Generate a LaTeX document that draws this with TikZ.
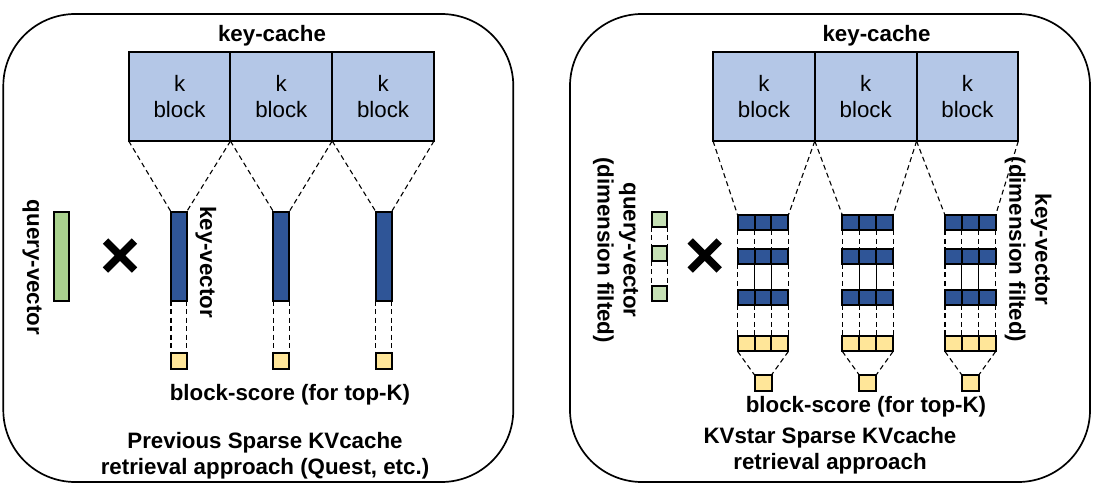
\documentclass[tikz,border=0pt]{standalone}
\usepackage{fontspec}
\setmainfont{Liberation Sans}
\definecolor{kblue}{HTML}{B4C7E7}
\definecolor{dblue}{HTML}{2F5597}
\definecolor{qgreen}{HTML}{A9D18E}
\definecolor{lgreen}{HTML}{C5E0B4}
\definecolor{yel}{HTML}{FFE699}
\begin{document}
\begin{tikzpicture}[x=1pt,y=-1pt,
  every node/.style={inner sep=0pt,outer sep=0pt},
  panel/.style={draw=black,line width=1.7pt,rounded corners=72pt},
  box/.style={draw=black,line width=2pt},
  kblock/.style={box,fill=kblue,minimum width=101.8pt,minimum height=89pt,align=center,font=\fontsize{22.3}{26.5}\selectfont},
  kbar/.style={box,fill=dblue,minimum width=15.7pt,minimum height=89pt},
  qbar/.style={box,fill=qgreen,minimum width=15.3pt,minimum height=89pt},
  score/.style={box,fill=yel,minimum width=15.7pt,minimum height=15.7pt},
  cell/.style={box,minimum width=16.9pt,minimum height=15.3pt},
  qcell/.style={box,fill=lgreen,minimum width=15.5pt,minimum height=15pt},
  fscore/.style={box,fill=yel,minimum width=17pt,minimum height=15.7pt},
  dline/.style={draw=black,line width=1.1pt,dash pattern=on 5pt off 3.5pt},
  sline/.style={draw=black,line width=1.1pt},
  xmark/.style={draw=black,line width=7.5pt},
  lbl/.style={font=\bfseries\fontsize{22.3}{26}\selectfont}
]
\useasboundingbox (0,0) rectangle (1094,490);

% ---------------- panels
\draw[panel] (3.3,14) rectangle (513.3,482);
\draw[panel] (570,14) rectangle (1090,482);

% ---------------- left panel
\node[lbl,anchor=base] (Lkc) at (272,41) {key-cache};
\foreach \i/\x in {1/179.6,2/281.3,3/383.1}
  \node[kblock] (Lk\i) at (\x,96.5) {k\\block};
\foreach \i/\x in {1/178.8,2/281.3,3/383.7}{
  \node[kbar] (Lv\i) at (\x,256.2) {};
  \node[score] (Ls\i) at (\x,361.2) {};
  \draw[dline] (Lk\i.south west) -- (Lv\i.north west);
  \draw[dline] (Lk\i.south east) -- (Lv\i.north east);
  \draw[dline] (Lv\i.south west) -- (Ls\i.north west);
  \draw[dline] (Lv\i.south east) -- (Ls\i.north east);
}
\node[qbar] (Lq) at (61.3,256.2) {};
\node[lbl,rotate=-90] (Lqt) at (32,267.5) {query-vector};
\node[lbl,rotate=-90] (Lkt) at (205.8,262) {key-vector};
\draw[xmark] (105.5,241) -- (134.5,270) (105.5,270) -- (134.5,241);
\node[lbl,anchor=base] (Lbs) at (290,400) {block-score (for top-K)};
\node[lbl,align=center] (Lcap) at (265,455.7) {Previous Sparse KVcache\\retrieval approach (Quest, etc.)};

% ---------------- right panel
\node[lbl,anchor=base] (Rkc) at (876.5,41) {key-cache};
\foreach \i/\x in {1/763.9,2/865.7,3/967.4}
  \node[kblock] (Rk\i) at (\x,96.5) {k\\block};
\foreach \g/\gx in {1/763,2/867.7,3/970.3}{
  \foreach \r/\ry/\col in {1/222.7/dblue,2/256.3/dblue,3/297.2/dblue,4/343.8/yel}{
    \foreach \c in {1,2,3}{
      \node[cell,fill=\col] (R\g-\r-\c) at ({\gx+(\c-2)*16.9},\ry) {};
    }
  }
  \node[fscore] (F\g) at (\gx,382.8) {};
  \draw[dline] (Rk\g.south west) -- (R\g-1-1.north west);
  \draw[dline] (Rk\g.south east) -- (R\g-1-3.north east);
  \foreach \c in {1,2,3}{
    \draw[dline] (R\g-1-\c.south west) -- (R\g-2-\c.north west);
    \draw[dline] (R\g-3-\c.south west) -- (R\g-4-\c.north west);
  }
  \draw[dline] (R\g-1-3.south east) -- (R\g-2-3.north east);
  \draw[dline] (R\g-3-3.south east) -- (R\g-4-3.north east);
  \draw[dline] (R\g-2-1.south west) -- (R\g-3-1.north west);
  \draw[sline] (R\g-2-2.south west) -- (R\g-3-2.north west);
  \draw[sline] (R\g-2-3.south west) -- (R\g-3-3.north west);
  \draw[dline] (R\g-2-3.south east) -- (R\g-3-3.north east);
  \draw[dline] (R\g-4-1.south west) -- (F\g.north west);
  \draw[dline] (R\g-4-3.south east) -- (F\g.north east);
}
\foreach \i/\y in {1/219.3,2/253,3/293.3}
  \node[qcell] (Rq\i) at (659.6,\y) {};
\draw[dline] (Rq1.south west) -- (Rq2.north west);
\draw[dline] (Rq1.south east) -- (Rq2.north east);
\draw[dline] (Rq2.south west) -- (Rq3.north west);
\draw[dline] (Rq2.south east) -- (Rq3.north east);
\node[lbl,rotate=-90,align=center] (Rqt) at (615.7,250) {query-vector\\(dimension filted)};
\node[lbl,rotate=-90,align=center] (Rkt) at (1028,249.5) {key-vector\\(dimension filted)};
\draw[xmark] (690.2,241) -- (719.2,270) (690.2,270) -- (719.2,241);
\node[lbl,anchor=base] (Rbs) at (866,412) {block-score (for top-K)};
\node[lbl,align=center] (Rcap) at (830,451.2) {KVstar Sparse KVcache\\retrieval approach};
\end{tikzpicture}
\end{document}
